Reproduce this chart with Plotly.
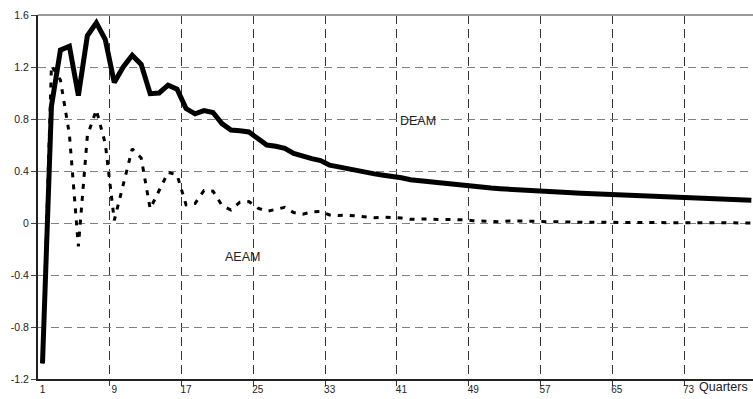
import plotly.graph_objects as go

# Impulse responses by quarter after the shock
quarters = list(range(1, 81))

deam = [
    -1.08, 0.90, 1.33, 1.36, 0.98, 1.44, 1.54, 1.41, 1.08, 1.20,
    1.29, 1.22, 0.995, 1.00, 1.06, 1.03, 0.88, 0.84, 0.865, 0.85,
    0.765, 0.715, 0.71, 0.70, 0.65, 0.60, 0.59, 0.575, 0.535, 0.51,
    0.495, 0.48, 0.445, 0.432, 0.418, 0.40, 0.385, 0.378, 0.368, 0.36,
    0.348, 0.333, 0.325, 0.316, 0.308, 0.300, 0.292, 0.285, 0.280, 0.274,
    0.269, 0.264, 0.259, 0.255, 0.251, 0.247, 0.243, 0.239, 0.235, 0.232,
    0.229, 0.226, 0.223, 0.220, 0.217, 0.214, 0.211, 0.208, 0.205, 0.202,
    0.199, 0.196, 0.193, 0.190, 0.187, 0.184, 0.181, 0.179, 0.177, 0.175,
]

aeam = [
    -1.08, 1.21, 1.10, 0.68, -0.18, 0.67, 0.87, 0.61, 0.02, 0.30,
    0.57, 0.50, 0.11, 0.25, 0.39, 0.37, 0.14, 0.15, 0.25, 0.245,
    0.135, 0.10, 0.16, 0.165, 0.115, 0.09, 0.105, 0.12, 0.08, 0.068,
    0.085, 0.088, 0.062, 0.058, 0.06, 0.055, 0.046, 0.041, 0.045, 0.042,
    0.038, 0.028, 0.03, 0.031, 0.027, 0.028, 0.026, 0.025, 0.018, 0.014,
    0.012, 0.010, 0.015, 0.016, 0.018, 0.014, 0.010, 0.012, 0.009, 0.007,
    0.006, 0.006, 0.005, 0.005, 0.004, 0.004, 0.004, 0.003, 0.003, 0.003,
    0.002, 0.002, 0.002, 0.002, 0.001, 0.001, 0.001, 0.001, 0.0, 0.0,
]

x_tick_vals = [1, 9, 17, 25, 33, 41, 49, 57, 65, 73]
x_tick_text = ["1", "9", "17", "25", "33", "41", "49", "57", "65", "73"]
y_tick_vals = [-1.2, -0.8, -0.4, 0, 0.4, 0.8, 1.2, 1.6]
y_tick_text = ["-1.2", "-0.8", "-0.4", "0", "0.4", "0.8", "1.2", "1.6"]

FONT = "Arial, 'Liberation Sans', sans-serif"

# Category boundaries (between quarters) carry the vertical grid
boundaries = [v - 0.5 for v in x_tick_vals[1:]] + [x_tick_vals[-1] + 7.5]

fig = go.Figure()

fig.add_trace(go.Scatter(
    x=quarters, y=aeam, mode="lines", name="AEAM",
    line=dict(color="black", width=3, dash="5px,7px"),
))
fig.add_trace(go.Scatter(
    x=quarters, y=deam, mode="lines", name="DEAM",
    line=dict(color="black", width=5),
))

fig.update_layout(
    width=753, height=399,
    margin=dict(l=38, r=0, t=15, b=20),
    paper_bgcolor="white", plot_bgcolor="white",
    showlegend=False,
    font=dict(family=FONT, size=10, color="#222"),
    xaxis=dict(
        range=[0.5, 80.18],
        tickmode="array", tickvals=x_tick_vals, ticktext=x_tick_text,
        ticks="", showgrid=False, zeroline=False,
        showline=True, linecolor="#222", linewidth=2,
        tickfont=dict(size=10, color="#222"),
        minor=dict(
            tickmode="array", tickvals=boundaries,
            ticks="outside", ticklen=5, tickcolor="#333", tickwidth=1,
            showgrid=True, gridcolor="#333", gridwidth=1, griddash="9px,5px",
        ),
    ),
    yaxis=dict(
        range=[-1.2, 1.6],
        tickmode="array", tickvals=y_tick_vals, ticktext=y_tick_text,
        ticks="outside", ticklen=5, tickcolor="#444", tickwidth=1,
        showgrid=True, gridcolor="#808080", gridwidth=1, griddash="8px,5px",
        zeroline=False,
        showline=True, linecolor="#222", linewidth=2,
        tickfont=dict(size=10.5, color="#222"),
    ),
    shapes=[
        dict(type="line", xref="paper", yref="paper", x0=0, x1=1, y0=1, y1=1,
             line=dict(color="#999999", width=2)),
    ],
    annotations=[
        dict(x=42.85, y=0.785, xref="x", yref="y", text="DEAM", showarrow=False,
             font=dict(family=FONT, size=12.5, color="#222")),
        dict(x=23.3, y=-0.26, xref="x", yref="y", text="AEAM", showarrow=False,
             font=dict(family=FONT, size=12.5, color="#222")),
        dict(x=73.94, y=-0.0228, xref="x", yref="paper", text="Quarters",
             showarrow=False, xanchor="left", yanchor="middle",
             font=dict(family=FONT, size=12.5, color="#222")),
    ],
)

fig.write_html("out.html")
